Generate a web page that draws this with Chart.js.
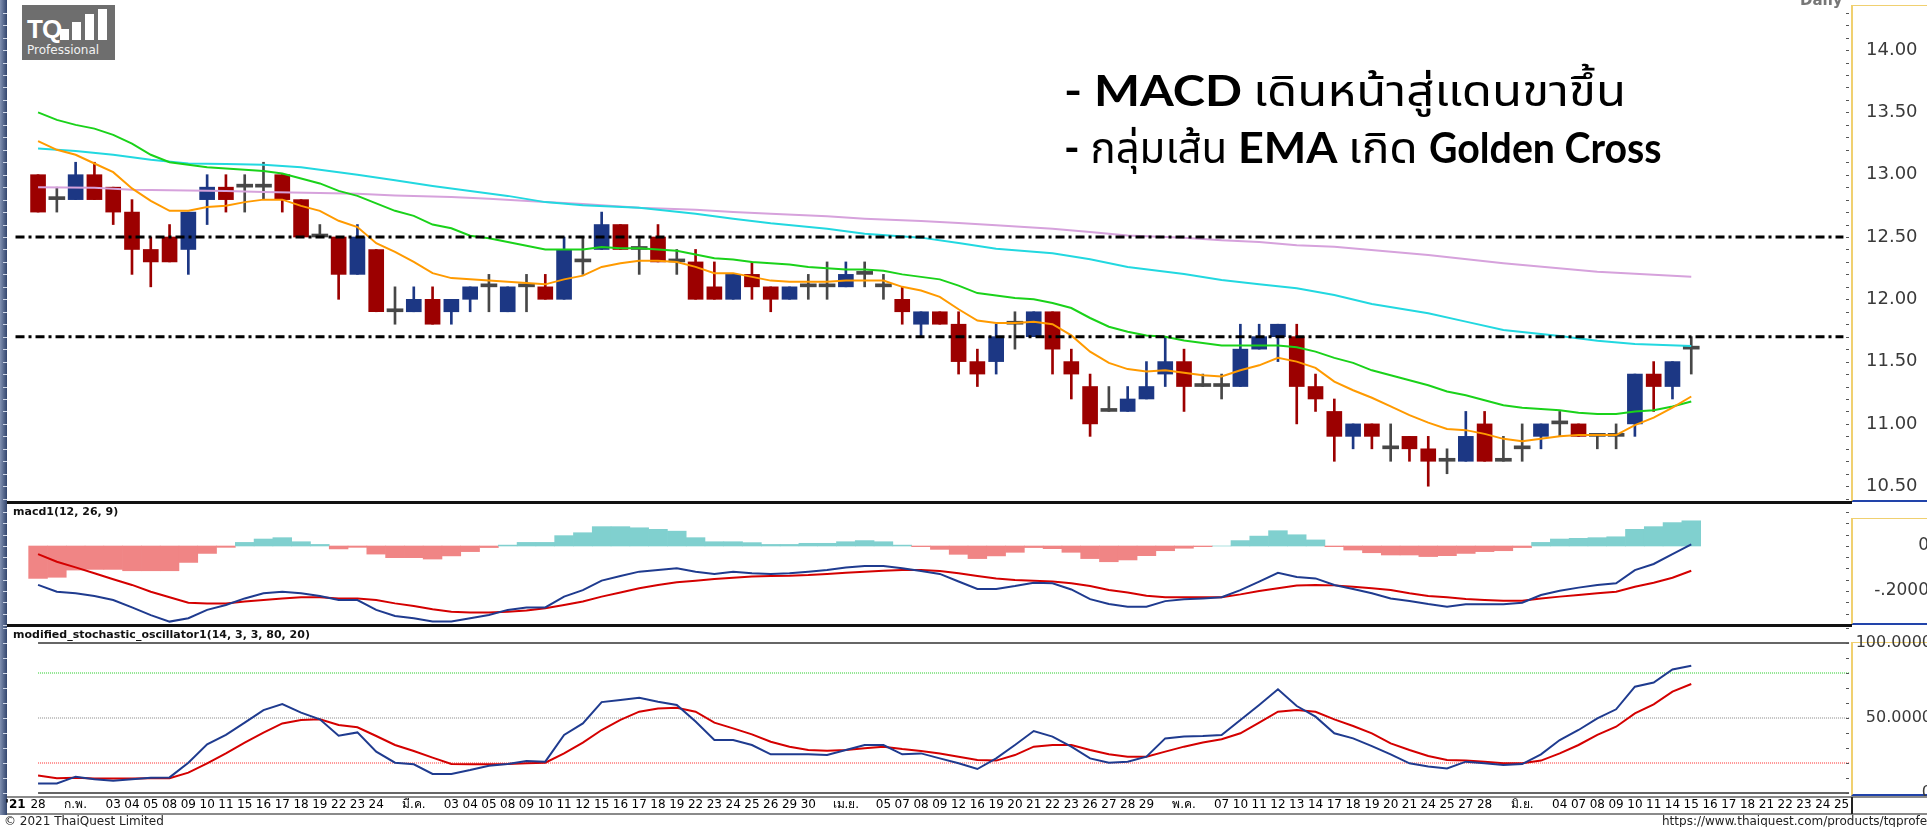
<!DOCTYPE html>
<html>
<head>
<meta charset="utf-8">
<script src="https://cdn.jsdelivr.net/npm/chart.js@4.4.0/dist/chart.umd.min.js"></script>
<style>
html, body { margin: 0; padding: 0; background: #fff; overflow: hidden; }
#wrap { position: relative; width: 1927px; height: 827px; overflow: hidden; background: #fff; }
canvas { position: absolute; left: 0; z-index: 2; }
.ln { position: absolute; z-index: 3; }
#leftbar { position: absolute; left: 0; top: 0; width: 7px; height: 815px; z-index: 1;
  background: linear-gradient(to right, #8090b0, #33466e); }
.axbox { position: absolute; left: 1851px; width: 90px; z-index: 1;
  border-left: 2px solid #f0d070; border-top: 1px solid #f0d070; border-bottom: 2px solid #2244aa; }
#logo { position: absolute; left: 22px; top: 5px; width: 93px; height: 55px; background: #6e6e6e; z-index: 4; }
#logo .tq { position: absolute; left: 5px; top: 9px; color: #fff; font: bold 26px "Liberation Sans", Arial, sans-serif; letter-spacing: -1px; }
#logo .bar { position: absolute; background: #fff; width: 9px; }
#logo .pro { position: absolute; left: 5px; top: 38px; color: #f2f2f2; font: 12px "DejaVu Sans", sans-serif; }
#note { position: absolute; left: 1064px; top: 62px; z-index: 4; color: #000;
  font-family: "Lato", "Noto Sans Thai", "Tlwg Typo", sans-serif; font-size: 42px; line-height: 57px; white-space: nowrap; }
#note b { font-weight: 700; }
#foot { position: absolute; left: 4px; top: 814px; font: 12px "DejaVu Sans", sans-serif; color: #222; z-index: 4; }
#url { position: absolute; left: 1662px; top: 814px; font: 12px "DejaVu Sans", sans-serif; color: #222; z-index: 4; white-space: nowrap; }
#daily { position: absolute; left: 1800px; top: -9px; font: bold 15px "DejaVu Sans", sans-serif; color: #777; z-index: 4; }
.ptitle { position: absolute; left: 13px; font: bold 11px "DejaVu Sans", sans-serif; color: #111; z-index: 4; }
</style>
</head>
<body>
<div id="wrap">
  <div id="leftbar"></div>
  <div class="axbox" style="top:5px;height:494px"></div>
  <div class="axbox" style="top:518px;height:104px"></div>
  <div class="axbox" style="top:642px;height:151px"></div>

  <canvas id="cPrice" width="1940" height="503" style="top:0"></canvas>
  <canvas id="cMacd" width="1940" height="123" style="top:503px"></canvas>
  <canvas id="cStoch" width="1940" height="190" style="top:626px"></canvas>

  <div class="ln" style="left:7px;top:501px;width:1845px;height:3px;background:#111"></div>
  <div class="ln" style="left:7px;top:624px;width:1845px;height:3px;background:#111"></div>
  <div class="ln" style="left:7px;top:796px;width:1920px;height:2px;background:#8a8a8a"></div>
  <div class="ln" style="left:7px;top:813px;width:1920px;height:2px;background:#8a8a8a"></div>
  <div class="ln" style="left:1851px;top:797px;width:2px;height:17px;background:#222"></div>

  <div id="daily">Daily</div>
  <div class="ptitle" style="top:505px">macd1(12, 26, 9)</div>
  <div class="ptitle" style="top:628px">modified_stochastic_oscillator1(14, 3, 3, 80, 20)</div>

  <div id="logo">
    <div class="tq">TQ</div>
    <div class="bar" style="left:38px;top:24px;height:11px"></div>
    <div class="bar" style="left:50px;top:17px;height:18px"></div>
    <div class="bar" style="left:63px;top:9px;height:26px"></div>
    <div class="bar" style="left:76px;top:4px;height:31px"></div>
    <div class="pro">Professional</div>
  </div>

  <div id="note">
    <div><b data-k="1.16">- MACD</b> <span data-k="1.17">เดินหน้าสู่แดนขาขึ้น</span></div>
    <div><b>-</b> <span>กลุ่มเส้น</span> <b data-k="1.07">EMA</b> <span data-k="1.1">เกิด</span> <b data-k="0.935">Golden Cross</b></div>
  </div>

  <div id="foot">© 2021 ThaiQuest Limited</div>
  <div id="url">https://www.thaiquest.com/products/tqprofessional/</div>
</div>

<script>
// ---- data ----
const xLabels = ['28','','ก.พ.','','03','04','05','08','09','10','11','15','16','17','18','19','22','23','24','',
  'มี.ค.','','03','04','05','08','09','10','11','12','15','16','17','18','19','22','23','24','25','26','29','30','',
  'เม.ย.','','05','07','08','09','12','16','19','20','21','22','23','26','27','28','29','',
  'พ.ค.','','07','10','11','12','13','14','17','18','19','20','21','24','25','27','28','',
  'มิ.ย.','','04','07','08','09','10','11','14','15','16','17','18','21','22','23','24','25'];
const yearLabel = "'21";

const opens = [13.0,12.8,12.8,13.0,12.9,12.7,12.4,12.5,12.4,12.8, 12.9,12.9,12.9,13.0,12.8,12.5,12.5,12.2,12.4,11.9,
  11.9,12.0,11.9,12.0,12.1,11.9,12.1,12.1,12.0,12.3, 12.4,12.6,12.4,12.5,12.3,12.3,12.1,12.0,12.2,12.1,
  12.0,12.1,12.1,12.1,12.2,12.1,12.0,11.8,11.9,11.8, 11.5,11.5,11.8,11.7,11.9,11.5,11.3,11.1,11.1,11.2,
  11.4,11.5,11.3,11.3,11.3,11.6,11.7,11.7,11.3,11.1, 10.9,11.0,10.8,10.9,10.8,10.7,10.7,11.0,10.7,10.8,
  10.9,11.0,11.0,10.9,10.9,11.0,11.4,11.3,11.6];
const highs = [13.0,12.9,13.1,13.1,12.9,12.8,12.5,12.6,12.7,13.0, 13.0,13.0,13.1,13.0,12.8,12.6,12.5,12.6,12.4,12.1,
  12.1,12.1,12.0,12.1,12.2,12.1,12.2,12.2,12.5,12.5, 12.7,12.6,12.5,12.6,12.4,12.4,12.3,12.2,12.3,12.1,
  12.1,12.2,12.3,12.3,12.3,12.2,12.1,11.9,11.9,11.9, 11.6,11.8,11.9,11.9,11.9,11.6,11.4,11.3,11.3,11.5,
  11.7,11.6,11.4,11.4,11.8,11.8,11.8,11.8,11.4,11.2, 11.0,11.0,11.0,10.9,10.9,10.8,11.1,11.1,10.9,11.0,
  11.0,11.1,11.0,10.9,11.0,11.4,11.5,11.5,11.7];
const lows = [12.7,12.7,12.8,12.8,12.6,12.2,12.1,12.3,12.2,12.6, 12.7,12.7,12.8,12.7,12.5,12.5,12.0,12.2,11.9,11.8,
  11.9,11.8,11.8,11.9,11.9,11.9,11.9,12.0,12.0,12.2, 12.4,12.4,12.2,12.3,12.2,12.0,12.0,12.0,12.0,11.9,
  12.0,12.0,12.0,12.1,12.1,12.0,11.8,11.7,11.8,11.4, 11.3,11.4,11.6,11.7,11.4,11.2,10.9,11.1,11.1,11.2,
  11.3,11.1,11.3,11.2,11.3,11.6,11.5,11.0,11.1,10.7, 10.8,10.8,10.7,10.7,10.5,10.6,10.7,10.7,10.7,10.7,
  10.8,10.9,10.9,10.8,10.8,10.9,11.1,11.2,11.4];
const closes = [12.7,12.8,13.0,12.8,12.7,12.4,12.3,12.3,12.7,12.9, 12.8,12.9,12.9,12.8,12.5,12.5,12.2,12.5,11.9,11.9,
  12.0,11.8,12.0,12.1,12.1,12.1,12.1,12.0,12.4,12.3, 12.6,12.4,12.4,12.3,12.3,12.0,12.0,12.2,12.1,12.0,
  12.1,12.1,12.1,12.2,12.2,12.1,11.9,11.9,11.8,11.5, 11.4,11.7,11.8,11.9,11.6,11.4,11.0,11.1,11.2,11.3,
  11.5,11.3,11.3,11.3,11.6,11.7,11.8,11.3,11.2,10.9, 11.0,10.9,10.8,10.8,10.7,10.7,10.9,10.7,10.7,10.8,
  11.0,11.0,10.9,10.9,10.9,11.4,11.3,11.5,11.6];

const emaFast = [13.27,13.20,13.16,13.09,13.02,12.89,12.79,12.71,12.71,12.74, 12.75,12.78,12.80,12.80,12.75,12.71,12.63,12.58,12.45,12.38,
  12.30,12.21,12.17,12.16,12.15,12.14,12.13,12.12,12.16,12.19, 12.26,12.29,12.31,12.31,12.30,12.26,12.21,12.21,12.18,12.15,
  12.14,12.14,12.14,12.15,12.15,12.15,12.10,12.07,12.02,11.92, 11.83,11.81,11.81,11.82,11.80,11.71,11.58,11.49,11.44,11.42,
  11.43,11.41,11.39,11.38,11.43,11.47,11.53,11.50,11.45,11.34, 11.27,11.21,11.14,11.07,11.01,10.96,10.95,10.92,10.88,10.86,
  10.88,10.90,10.91,10.91,10.91,10.99,11.05,11.13,11.22];
const emaMid = [13.50,13.44,13.40,13.37,13.32,13.25,13.16,13.10,13.08,13.06, 13.05,13.04,13.03,13.01,12.97,12.93,12.87,12.83,12.77,12.71,
  12.67,12.60,12.57,12.51,12.49,12.46,12.43,12.40,12.40,12.40, 12.42,12.41,12.41,12.40,12.39,12.36,12.33,12.32,12.30,12.29,
  12.28,12.26,12.25,12.24,12.24,12.23,12.20,12.18,12.16,12.11, 12.05,12.03,12.01,12.00,11.97,11.93,11.85,11.78,11.74,11.71,
  11.70,11.67,11.65,11.63,11.63,11.63,11.63,11.615,11.58,11.53, 11.49,11.43,11.39,11.35,11.31,11.26,11.23,11.19,11.15,11.13,
  11.12,11.11,11.09,11.08,11.08,11.10,11.11,11.14,11.18];
const emaSlowAt = [0,2,4,6,8,10,12,14,16,17,19,21,23,25,27,29,32,35,37,39,42,44,47,49,51,54,56,58,61,63,65,67,69,71,74,76,78,81,83,85,88];
const emaSlow = [13.21,13.19,13.16,13.12,13.09,13.085,13.08,13.06,13.02,13.00,12.955,12.91,12.87,12.83,12.78,12.755,12.735,12.687,12.647,12.61,
  12.567,12.527,12.495,12.452,12.406,12.37,12.321,12.26,12.203,12.155,12.12,12.088,12.035,11.963,11.888,11.821,11.754,11.706,11.668,11.641,11.625];
const emaLongAt = [0,3,5,8,10,12,15,17,19,22,24,27,29,32,35,37,39,42,44,47,49,51,54,56,58,61,63,65,67,69,74,78,83,88];
const emaLong = [12.90,12.895,12.88,12.874,12.869,12.861,12.853,12.848,12.834,12.821,12.807,12.78,12.765,12.735,12.719,12.70,12.687,12.666,12.647,12.628,
  12.612,12.594,12.567,12.54,12.513,12.495,12.473,12.46,12.433,12.422,12.356,12.289,12.222,12.182];
const priceLevels = [12.5, 11.7];
const priceTicks = [10.5, 11.0, 11.5, 12.0, 12.5, 13.0, 13.5, 14.0];

const macdHist = [-0.144,-0.139,-0.107,-0.104,-0.104,-0.110,-0.110,-0.110,-0.073,-0.033, -0.006,0.016,0.031,0.037,0.019,0.007,-0.013,-0.006,-0.036,-0.052,
  -0.052,-0.058,-0.044,-0.025,-0.007,0.004,0.016,0.016,0.046,0.059, 0.086,0.086,0.081,0.074,0.066,0.037,0.019,0.019,0.015,0.007,
  0.007,0.012,0.012,0.019,0.024,0.019,0.004,-0.003,-0.015,-0.037, -0.056,-0.044,-0.028,-0.007,-0.012,-0.028,-0.056,-0.070,-0.062,-0.043,
  -0.021,-0.010,-0.003,0.000,0.024,0.044,0.068,0.050,0.027,-0.003, -0.018,-0.030,-0.040,-0.040,-0.047,-0.043,-0.033,-0.025,-0.021,-0.007,
  0.016,0.031,0.034,0.037,0.041,0.074,0.086,0.104,0.112];
const macdLine = [-0.173,-0.203,-0.210,-0.222,-0.240,-0.273,-0.307,-0.336,-0.321,-0.284, -0.262,-0.233,-0.210,-0.203,-0.210,-0.222,-0.240,-0.240,-0.284,-0.311,
  -0.321,-0.336,-0.336,-0.321,-0.307,-0.284,-0.273,-0.273,-0.225,-0.196, -0.154,-0.133,-0.114,-0.107,-0.099,-0.114,-0.124,-0.114,-0.121,-0.124,
  -0.121,-0.114,-0.107,-0.096,-0.089,-0.089,-0.099,-0.111,-0.124,-0.158, -0.191,-0.191,-0.178,-0.163,-0.166,-0.193,-0.236,-0.258,-0.270,-0.270,
  -0.245,-0.237,-0.233,-0.228,-0.196,-0.158,-0.119,-0.138,-0.144,-0.173, -0.191,-0.210,-0.233,-0.244,-0.258,-0.270,-0.259,-0.259,-0.259,-0.252,
  -0.218,-0.199,-0.185,-0.173,-0.166,-0.107,-0.080,-0.036,0.007];
const signalLine = [-0.036,-0.070,-0.095,-0.121,-0.148,-0.173,-0.203,-0.228,-0.252,-0.255, -0.255,-0.247,-0.240,-0.233,-0.228,-0.228,-0.233,-0.233,-0.240,-0.255,
  -0.267,-0.281,-0.292,-0.296,-0.296,-0.292,-0.287,-0.277,-0.262,-0.247, -0.225,-0.207,-0.188,-0.173,-0.161,-0.154,-0.147,-0.141,-0.136,-0.133,
  -0.132,-0.129,-0.124,-0.119,-0.114,-0.110,-0.107,-0.107,-0.111,-0.121, -0.133,-0.144,-0.151,-0.154,-0.158,-0.166,-0.178,-0.196,-0.207,-0.221,
  -0.228,-0.228,-0.228,-0.228,-0.215,-0.200,-0.188,-0.176,-0.173,-0.175, -0.181,-0.188,-0.196,-0.210,-0.222,-0.228,-0.236,-0.240,-0.243,-0.243,
  -0.233,-0.225,-0.218,-0.210,-0.203,-0.181,-0.163,-0.141,-0.110];
const macdTicks = [-0.2, 0];
const macdTickText = ['-.2000', '0'];

const stochK = [6.4,6.4,10.9,9.1,8.2,9.1,10.2,10.4,20.2,32.4, 38.7,46.9,55.3,59.3,53.6,49.1,38.2,40.4,27.6,20.2,
  19.1,12.7,12.7,15.3,18.2,19.3,21.3,20.9,38.7,46.4, 60.6,62.0,63.5,60.9,58.7,47.6,35.3,35.3,32.0,25.8,
  25.8,25.8,25.3,28.7,32.0,32.0,25.8,26.4,23.1,19.8, 16.0,23.1,32.0,41.3,37.6,30.9,23.1,20.2,20.9,24.2,
  36.4,37.6,38.0,38.7,48.7,58.7,69.1,58.0,50.9,39.8, 36.4,31.3,25.8,19.8,17.6,16.4,20.9,19.8,18.7,19.3,
  25.8,35.3,42.0,49.8,55.8,70.9,73.6,82.4,84.9];
const stochD = [11.6,9.8,10.2,9.6,9.6,9.6,9.8,9.8,13.6,19.8, 26.4,33.6,40.2,46.4,48.7,49.1,45.3,43.8,38.0,32.0,
  28.0,23.6,19.3,19.1,19.1,19.3,19.8,20.2,26.4,33.6, 42.0,48.7,54.2,56.4,56.9,54.2,46.9,43.1,39.1,34.2,
  30.9,28.7,28.2,28.7,29.8,30.9,29.3,28.0,26.4,24.2, 22.0,21.6,25.3,30.9,32.0,32.0,28.7,25.8,24.2,24.2,
  27.6,30.9,33.6,35.8,39.8,46.9,54.2,55.3,54.2,49.1, 44.7,39.8,33.1,28.7,24.7,22.0,21.6,20.9,19.8,19.8,
  21.6,26.4,32.0,38.7,44.2,53.1,59.1,67.6,72.7];
const stochLevels = [80, 50, 20];
const stochBounds = [100, 0];
const stochTicks = [0, 50, 100];
const stochTickText = ['0', '50.0000', '100.0000'];

// ---- layout constants ----
const X_MIN = -1.6, X_MAX = 96.45;
const LEVEL_FROM = -1.2, LEVEL_TO = 96.1;
const RED = '#9c0000', BLUE = '#1c3784', DOJI = '#474747';

const idx = a => a.map((v, i) => ({ x: i, y: v }));
const atIdx = (xs, ys) => xs.map((x, i) => ({ x: x, y: ys[i] }));
const flat = (v, a, b) => [{ x: a, y: v }, { x: b, y: v }];

const candleColor = opens.map((o, i) => {
  const c = closes[i];
  if (Math.abs(c - o) < 1e-9) return DOJI;
  return c > o ? BLUE : RED;
});
const bodies = [], bodyCols = [], dojis = [];
opens.forEach((o, i) => {
  const c = closes[i];
  if (Math.abs(c - o) < 1e-9) dojis.push({ x: i, y: [o, o] });
  else { bodies.push({ x: i, y: [Math.min(o, c), Math.max(o, c)] }); bodyCols.push(candleColor[i]); }
});
const wicks = highs.map((h, i) => ({ x: i, y: [lows[i], h] }));

const minorTicks = {
  id: 'minorTicks',
  afterDraw(chart, args, opts) {
    const y = chart.scales.y, a = chart.chartArea, ctx = chart.ctx;
    ctx.save();
    const n0 = Math.ceil(y.min / opts.step - 1e-6), n1 = Math.floor(y.max / opts.step + 1e-6);
    for (let n = n0; n <= n1; n++) {
      const py = Math.round(y.getPixelForValue(n * opts.step));
      ctx.fillStyle = '#555';
      ctx.fillRect(a.right - 4, py, 3, 1);
      ctx.fillStyle = '#d0d8e8';
      ctx.fillRect(3, py, 4, 1);
    }
    ctx.restore();
  }
};

// right-aligned value labels, placed through the y scale
const rightLabels = {
  id: 'rightLabels',
  afterDraw(chart, args, opts) {
    if (!opts.values) return;
    const y = chart.scales.y, ctx = chart.ctx;
    ctx.save();
    ctx.font = opts.font;
    ctx.fillStyle = '#3a3a3a';
    ctx.textAlign = 'right';
    ctx.textBaseline = 'middle';
    opts.values.forEach((v, i) => ctx.fillText(opts.texts[i], opts.right, y.getPixelForValue(v)));
    ctx.restore();
  }
};

function yScale(min, max, ticks, fmt, font, padding, showTicks) {
  return {
    position: 'right', min: min, max: max,
    grid: { display: false, drawTicks: false }, border: { display: false },
    afterBuildTicks: s => { s.ticks = ticks.map(v => ({ value: v })); },
    afterFit: s => { s.width = 90; s.paddingTop = 0; s.paddingBottom = 0; },
    ticks: { display: showTicks, callback: fmt, color: '#3a3a3a', font: font, padding: padding }
  };
}

function baseOptions(padTop, padBottom, step, xScale, yS, labels) {
  return {
    responsive: false, animation: false, events: [],
    layout: { padding: { left: 8, top: padTop, right: 0, bottom: padBottom }, autoPadding: false },
    plugins: { legend: { display: false }, tooltip: { enabled: false }, minorTicks: { step: step }, rightLabels: labels || {} },
    scales: { x: xScale, y: yS }
  };
}

const hiddenX = { type: 'linear', min: X_MIN, max: X_MAX, offset: false, display: false };
const lineDs = (data, color, order, extra) => Object.assign({
  type: 'line', data: data, borderColor: color, borderWidth: 2, pointRadius: 0, tension: 0, order: order
}, extra || {});

// ---- price ----
new Chart(document.getElementById('cPrice'), {
  type: 'line',
  data: { datasets: [
    ...priceLevels.map(v => lineDs(flat(v, LEVEL_FROM, LEVEL_TO), '#000', 0, { borderWidth: 3, borderDash: [9, 4, 3, 4] })),
    lineDs(idx(emaFast), '#ff9a00', 1),
    lineDs(idx(emaMid), '#1ad21a', 1),
    lineDs(atIdx(emaSlowAt, emaSlow), '#22d8e0', 1),
    lineDs(atIdx(emaLongAt, emaLong), '#d6a2dc', 1),
    { type: 'bar', data: bodies, backgroundColor: bodyCols, barThickness: 15, grouped: false, order: 2 },
    { type: 'bar', data: dojis, backgroundColor: DOJI, barThickness: 16, minBarLength: 3, grouped: false, order: 2 },
    { type: 'bar', data: wicks, backgroundColor: candleColor, barThickness: 2, grouped: false, order: 3 }
  ] },
  options: baseOptions(6, 1, 0.1, hiddenX,
    yScale(10.3732, 14.354, priceTicks, v => v.toFixed(2), { family: 'DejaVu Sans', size: 18 }, 16, true)),
  plugins: [minorTicks]
});

// ---- macd ----
new Chart(document.getElementById('cMacd'), {
  type: 'line',
  data: { datasets: [
    lineDs(idx(macdLine), '#1f3b8f', 0),
    lineDs(idx(signalLine), '#d40000', 0),
    { type: 'bar', data: idx(macdHist), backgroundColor: macdHist.map(v => v < 0 ? '#f08585' : '#80d0cf'),
      barPercentage: 1, categoryPercentage: 1, grouped: false, order: 1 }
  ] },
  options: baseOptions(2, 1, 0.05, hiddenX,
    yScale(-0.3511, 0.1822, macdTicks, null, { family: 'DejaVu Sans', size: 17 }, 0, false),
    { values: macdTicks, texts: macdTickText, right: 1929, font: '17px "DejaVu Sans"' }),
  plugins: [minorTicks, rightLabels]
});

// ---- stochastic ----
const xTickList = [{ value: -1.2, lbl: yearLabel }].concat(xLabels.map((l, i) => ({ value: i, lbl: l })));
const levelCols = ['#22cc22', '#888888', '#ff2a2a'];
new Chart(document.getElementById('cStoch'), {
  type: 'line',
  data: { datasets: [
    lineDs(idx(stochK), '#1f3b8f', 0),
    lineDs(idx(stochD), '#d40000', 0),
    ...stochLevels.map((v, k) => lineDs(flat(v, 0, 96.4), levelCols[k], 1, { borderWidth: 1, borderDash: [1, 1] })),
    ...stochBounds.map(v => lineDs(flat(v, 0, 96.4), '#333', 1, { borderWidth: 1.5 }))
  ] },
  options: baseOptions(2, 0, 10, {
      type: 'linear', min: X_MIN, max: X_MAX, offset: false,
      grid: { display: false, drawTicks: false }, border: { display: false },
      afterBuildTicks: s => { s.ticks = xTickList.map(t => Object.assign({}, t)); },
      afterFit: s => { s.height = 21; s.paddingLeft = 0; s.paddingRight = 0; },
      ticks: {
        autoSkip: false, maxRotation: 0, minRotation: 0, padding: 3, color: '#000',
        font: c => (c.tick && c.tick.lbl === yearLabel) ? { family: 'DejaVu Sans', size: 12, weight: 'bold' } : { family: 'DejaVu Sans', size: 12 },
        callback: (v, i, t) => t[i].lbl
      }
    },
    yScale(-1.333, 110, stochTicks, null, { family: 'DejaVu Sans', size: 16 }, 0, false),
    { values: stochTicks, texts: stochTickText, right: 1932, font: '16px "DejaVu Sans"' }),
  plugins: [minorTicks, rightLabels]
});

// widen the annotation pieces the way the original font sets them
document.querySelectorAll('#note [data-k]').forEach(el => {
  const k = parseFloat(el.dataset.k);
  el.style.display = 'inline-block';
  const w = el.getBoundingClientRect().width;
  el.style.transformOrigin = '0 0';
  el.style.transform = 'scaleX(' + k + ')';
  el.style.marginRight = (w * (k - 1)) + 'px';
});
</script>
</body>
</html>
